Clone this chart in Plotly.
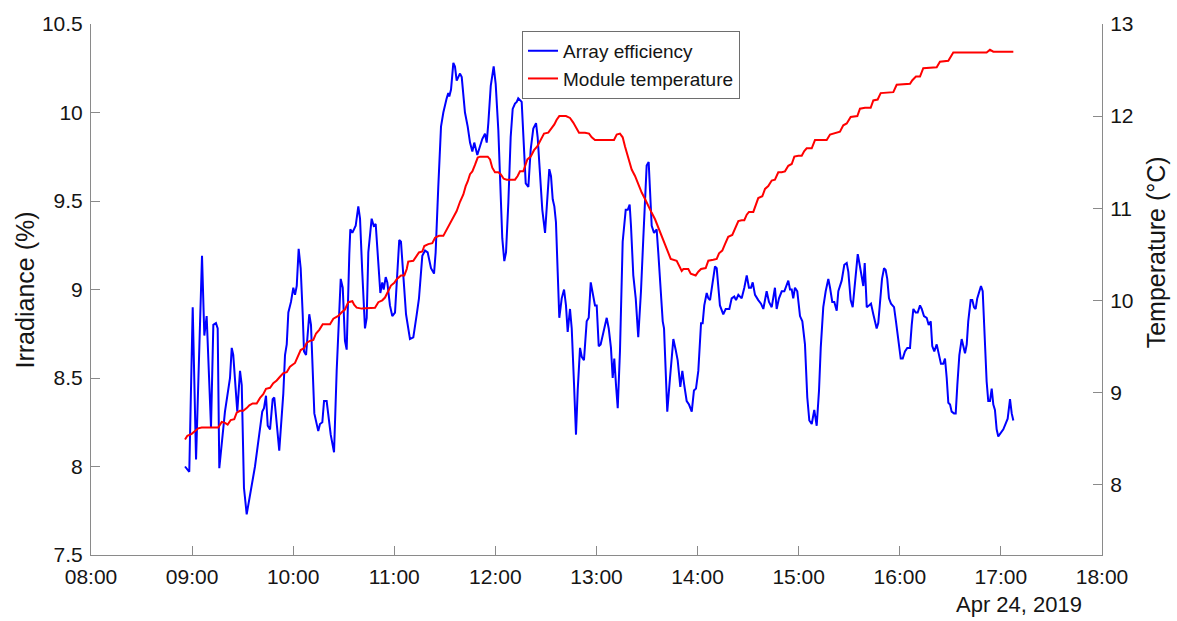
import pandas as pd
import plotly.graph_objects as go

# Clock time in decimal hours (24 Apr 2019) and array efficiency (%)
eff_hours = [
    8.930, 8.972, 9.006, 9.039, 9.098, 9.121, 9.144, 9.187, 9.210, 9.236, 9.253, 9.269,
    9.325, 9.375, 9.392, 9.407, 9.447, 9.474, 9.491, 9.513, 9.540, 9.573, 9.622, 9.694,
    9.711, 9.731, 9.748, 9.771, 9.797, 9.813, 9.862, 9.902, 9.919, 9.936, 9.952, 9.978,
    10.001, 10.018, 10.035, 10.054, 10.074, 10.094, 10.107, 10.127, 10.159, 10.176, 10.209,
    10.248, 10.265, 10.288, 10.305, 10.331, 10.371, 10.404, 10.430, 10.470, 10.490, 10.512,
    10.529, 10.555, 10.565, 10.585, 10.618, 10.644, 10.661, 10.683, 10.710, 10.727, 10.743,
    10.776, 10.796, 10.816, 10.842, 10.862, 10.881, 10.895, 10.915, 10.931, 10.957, 10.980,
    11.007, 11.034, 11.049, 11.066, 11.089, 11.116, 11.155, 11.188, 11.222, 11.244, 11.277,
    11.304, 11.330, 11.363, 11.393, 11.409, 11.435, 11.462, 11.485, 11.501, 11.518, 11.534,
    11.544, 11.561, 11.574, 11.584, 11.600, 11.617, 11.633, 11.650, 11.667, 11.683, 11.699,
    11.726, 11.749, 11.772, 11.791, 11.821, 11.848, 11.870, 11.897, 11.914, 11.930, 11.954,
    11.983, 12.003, 12.029, 12.052, 12.068, 12.088, 12.105, 12.128, 12.151, 12.171, 12.194,
    12.211, 12.226, 12.260, 12.276, 12.300, 12.326, 12.349, 12.375, 12.402, 12.418, 12.441,
    12.464, 12.491, 12.513, 12.533, 12.550, 12.567, 12.583, 12.599, 12.616, 12.632, 12.656,
    12.679, 12.698, 12.715, 12.738, 12.755, 12.778, 12.797, 12.814, 12.837, 12.854, 12.876,
    12.903, 12.923, 12.943, 12.968, 12.985, 13.002, 13.022, 13.041, 13.067, 13.101, 13.121,
    13.143, 13.160, 13.176, 13.193, 13.210, 13.232, 13.259, 13.289, 13.309, 13.328, 13.341,
    13.364, 13.388, 13.413, 13.440, 13.463, 13.496, 13.516, 13.529, 13.546, 13.569, 13.595,
    13.611, 13.635, 13.655, 13.668, 13.684, 13.700, 13.727, 13.760, 13.783, 13.803, 13.829,
    13.849, 13.868, 13.892, 13.915, 13.942, 13.964, 13.984, 14.007, 14.034, 14.050, 14.066,
    14.090, 14.106, 14.123, 14.145, 14.172, 14.189, 14.205, 14.221, 14.254, 14.278, 14.314,
    14.337, 14.363, 14.380, 14.403, 14.436, 14.462, 14.486, 14.508, 14.528, 14.545, 14.568,
    14.600, 14.627, 14.650, 14.683, 14.706, 14.733, 14.765, 14.782, 14.805, 14.832, 14.858,
    14.874, 14.897, 14.914, 14.931, 14.946, 14.963, 14.986, 15.013, 15.036, 15.062, 15.085,
    15.105, 15.129, 15.154, 15.178, 15.201, 15.218, 15.243, 15.267, 15.293, 15.310, 15.332,
    15.352, 15.376, 15.392, 15.425, 15.451, 15.475, 15.491, 15.514, 15.534, 15.557, 15.584,
    15.600, 15.623, 15.639, 15.653, 15.673, 15.695, 15.715, 15.738, 15.755, 15.771, 15.787,
    15.804, 15.824, 15.844, 15.860, 15.876, 15.893, 15.913, 15.943, 15.962, 15.985, 16.009,
    16.029, 16.051, 16.074, 16.101, 16.118, 16.134, 16.157, 16.177, 16.200, 16.217, 16.239,
    16.266, 16.286, 16.306, 16.321, 16.341, 16.365, 16.388, 16.407, 16.430, 16.447, 16.464,
    16.480, 16.497, 16.513, 16.536, 16.553, 16.569, 16.589, 16.612, 16.628, 16.645, 16.662,
    16.677, 16.701, 16.717, 16.734, 16.750, 16.766, 16.786, 16.803, 16.820, 16.836, 16.859,
    16.875, 16.892, 16.909, 16.925, 16.941, 16.958, 16.974, 17.024, 17.067, 17.090, 17.107,
    17.123,
]
efficiency = [
    8.00, 7.97, 8.90, 8.04, 9.19, 8.74, 8.85, 8.22, 8.80, 8.81, 8.78, 7.99,
    8.31, 8.50, 8.67, 8.63, 8.31, 8.54, 8.46, 7.88, 7.73, 7.83, 8.00, 8.31,
    8.33, 8.40, 8.23, 8.21, 8.38, 8.39, 8.09, 8.41, 8.63, 8.69, 8.87, 8.93,
    9.01, 8.97, 9.02, 9.23, 9.12, 8.86, 8.65, 8.63, 8.86, 8.80, 8.30,
    8.20, 8.24, 8.25, 8.37, 8.37, 8.18, 8.08, 8.54, 9.06, 9.01, 8.71,
    8.66, 9.20, 9.34, 9.32, 9.36, 9.47, 9.40, 9.10, 8.78, 8.84, 9.21,
    9.40, 9.36, 9.37, 9.17, 8.98, 9.04, 9.00, 9.07, 9.04, 8.91, 8.85,
    8.87, 9.12, 9.28, 9.27, 9.06, 8.86, 8.72, 8.73, 8.86, 8.95, 9.19,
    9.22, 9.21, 9.12, 9.09, 9.21, 9.58, 9.92, 10.00, 10.05, 10.08, 10.11,
    10.09, 10.13, 10.24, 10.28, 10.26, 10.18, 10.20, 10.22, 10.20, 10.11, 10.00,
    9.92, 9.83, 9.78, 9.83, 9.76, 9.81, 9.85, 9.88, 9.83, 9.94, 10.15,
    10.26, 10.16, 9.90, 9.53, 9.29, 9.16, 9.21, 9.49, 9.86, 10.02, 10.05,
    10.06, 10.08, 10.06, 9.86, 9.60, 9.58, 9.79, 9.91, 9.94, 9.86, 9.62,
    9.45, 9.32, 9.53, 9.68, 9.64, 9.51, 9.47, 9.38, 9.10, 8.84, 8.95,
    9.00, 8.91, 8.76, 8.89, 8.78, 8.46, 8.18, 8.43, 8.67, 8.62, 8.60,
    8.82, 8.84, 9.04, 8.95, 8.91, 8.91, 8.68, 8.69, 8.76, 8.84, 8.78,
    8.67, 8.50, 8.61, 8.46, 8.33, 8.65, 9.27, 9.45, 9.45, 9.48, 9.36,
    9.08, 8.95, 8.73, 8.99, 9.29, 9.70, 9.72, 9.58, 9.36, 9.32, 9.34,
    9.21, 8.99, 8.82, 8.78, 8.56, 8.31, 8.50, 8.72, 8.66, 8.60, 8.45,
    8.54, 8.46, 8.37, 8.35, 8.31, 8.43, 8.44, 8.54, 8.81, 8.81, 8.91,
    8.98, 8.95, 8.94, 9.02, 9.13, 9.12, 9.02, 8.91, 8.86, 8.89, 8.89,
    8.95, 8.96, 8.94, 8.97, 8.95, 9.01, 9.08, 9.01, 9.01, 9.04, 8.97,
    8.94, 8.92, 8.89, 8.99, 8.93, 8.90, 9.01, 8.89, 8.95, 8.99, 8.99,
    9.02, 9.05, 9.00, 9.00, 8.95, 9.01, 8.99, 8.85, 8.82, 8.69, 8.39,
    8.26, 8.24, 8.32, 8.23, 8.43, 8.67, 8.90, 8.99, 9.06, 9.01, 8.93,
    8.93, 8.88, 8.99, 9.05, 9.14, 9.15, 9.10, 8.94, 8.90, 9.02, 9.20,
    9.15, 9.06, 9.02, 9.15, 8.90, 8.91, 8.92, 8.86, 8.82, 8.78, 8.81,
    8.95, 9.06, 9.12, 9.11, 9.06, 8.95, 8.92, 8.90, 8.82, 8.71, 8.61,
    8.61, 8.65, 8.67, 8.67, 8.80, 8.89, 8.87, 8.87, 8.91, 8.89, 8.85,
    8.84, 8.80, 8.82, 8.68, 8.65, 8.69, 8.63, 8.58, 8.58, 8.61, 8.50,
    8.36, 8.35, 8.31, 8.30, 8.30, 8.46, 8.63, 8.72, 8.67, 8.64, 8.69,
    8.82, 8.94, 8.94, 8.90, 8.89, 8.95, 8.99, 9.02, 8.99, 8.76, 8.48,
    8.37, 8.37, 8.44, 8.35, 8.32, 8.21, 8.17, 8.21, 8.27, 8.38, 8.30,
    8.26,
]

# Clock time in decimal hours and module temperature (°C)
temp_hours = [
    8.930, 8.953, 8.996, 9.029, 9.061, 9.095, 9.259, 9.293, 9.325, 9.352, 9.382, 9.417,
    9.441, 9.474, 9.506, 9.540, 9.566, 9.599, 9.639, 9.672, 9.704, 9.731, 9.771, 9.803,
    9.837, 9.869, 9.902, 9.936, 9.968, 10.018, 10.050, 10.074, 10.107, 10.134, 10.166,
    10.199, 10.226, 10.258, 10.292, 10.364, 10.397, 10.446, 10.480, 10.512, 10.545, 10.585,
    10.604, 10.628, 10.678, 10.809, 10.842, 10.881, 10.908, 10.935, 10.967, 11.000, 11.024,
    11.066, 11.099, 11.123, 11.138, 11.188, 11.222, 11.244, 11.277, 11.297, 11.336, 11.376,
    11.403, 11.442, 11.485, 11.518, 11.551, 11.584, 11.617, 11.650, 11.683, 11.706, 11.726,
    11.749, 11.772, 11.798, 11.825, 11.848, 11.924, 11.947, 11.969, 11.996, 12.029, 12.052,
    12.082, 12.112, 12.194, 12.220, 12.243, 12.276, 12.316, 12.349, 12.382, 12.414, 12.448,
    12.481, 12.523, 12.557, 12.583, 12.606, 12.632, 12.698, 12.738, 12.770, 12.803, 12.827,
    12.886, 12.926, 12.953, 12.985, 13.173, 13.200, 13.232, 13.259, 13.282, 13.305, 13.324,
    13.348, 13.381, 13.413, 13.447, 13.480, 13.512, 13.546, 13.579, 13.611, 13.645, 13.677,
    13.710, 13.734, 13.793, 13.819, 13.843, 13.859, 13.882, 13.908, 13.932, 13.957, 13.981,
    14.007, 14.034, 14.080, 14.106, 14.155, 14.189, 14.212, 14.244, 14.271, 14.303, 14.343,
    14.370, 14.403, 14.436, 14.462, 14.486, 14.508, 14.551, 14.575, 14.600, 14.640, 14.667,
    14.699, 14.733, 14.765, 14.798, 14.832, 14.864, 14.897, 14.931, 14.957, 14.996, 15.030,
    15.055, 15.079, 15.129, 15.161, 15.194, 15.277, 15.310, 15.408, 15.441, 15.475, 15.514,
    15.580, 15.606, 15.656, 15.712, 15.738, 15.781, 15.811, 15.936, 15.969, 16.101, 16.124,
    16.160, 16.200, 16.232, 16.365, 16.397, 16.480, 16.529, 16.859, 16.892, 16.925, 17.123,
]
temperature = [
    8.49, 8.53, 8.55, 8.58, 8.61, 8.62, 8.62, 8.68, 8.67, 8.65, 8.70, 8.71,
    8.78, 8.80, 8.80, 8.83, 8.86, 8.88, 8.88, 8.94, 8.98, 9.04, 9.05, 9.10,
    9.13, 9.17, 9.21, 9.22, 9.28, 9.32, 9.39, 9.46, 9.48, 9.54, 9.56,
    9.57, 9.64, 9.68, 9.74, 9.74, 9.80, 9.83, 9.87, 9.90, 9.98, 9.99,
    9.95, 9.92, 9.91, 9.92, 9.98, 10.00, 10.03, 10.09, 10.16, 10.19, 10.23,
    10.27, 10.27, 10.34, 10.42, 10.43, 10.49, 10.52, 10.53, 10.59, 10.61, 10.62,
    10.68, 10.70, 10.70, 10.77, 10.84, 10.90, 10.97, 11.07, 11.15, 11.24, 11.29,
    11.37, 11.40, 11.47, 11.55, 11.56, 11.56, 11.53, 11.44, 11.39, 11.39, 11.37,
    11.32, 11.31, 11.31, 11.35, 11.40, 11.40, 11.53, 11.56, 11.63, 11.67, 11.74,
    11.81, 11.82, 11.87, 11.91, 11.96, 12.00, 12.00, 11.98, 11.93, 11.87, 11.82,
    11.82, 11.81, 11.77, 11.74, 11.74, 11.80, 11.81, 11.77, 11.67, 11.58, 11.51,
    11.42, 11.35, 11.26, 11.17, 11.10, 11.02, 10.95, 10.88, 10.79, 10.68, 10.61,
    10.50, 10.45, 10.43, 10.38, 10.32, 10.34, 10.34, 10.34, 10.29, 10.28, 10.27,
    10.31, 10.34, 10.35, 10.43, 10.44, 10.45, 10.51, 10.54, 10.61, 10.69, 10.71,
    10.77, 10.86, 10.87, 10.87, 10.93, 10.96, 10.96, 11.03, 11.11, 11.13, 11.21,
    11.24, 11.30, 11.31, 11.39, 11.39, 11.40, 11.46, 11.48, 11.56, 11.57, 11.57,
    11.62, 11.65, 11.65, 11.74, 11.74, 11.74, 11.80, 11.83, 11.90, 11.92, 11.99,
    12.00, 12.08, 12.09, 12.09, 12.17, 12.18, 12.25, 12.26, 12.34, 12.35, 12.39,
    12.43, 12.43, 12.52, 12.53, 12.59, 12.60, 12.69, 12.69, 12.72, 12.70, 12.70,
]

day = pd.Timestamp("2019-04-24")
eff_time = day + pd.to_timedelta(eff_hours, unit="h")
temp_time = day + pd.to_timedelta(temp_hours, unit="h")

FONT = "Liberation Sans, Arial, Helvetica, sans-serif"
AXIS_GREY = "#8a8a8a"
TEXT = "#151515"
TICK_SIZE = 21

fig = go.Figure()
fig.add_trace(go.Scatter(
    x=eff_time, y=efficiency, name="Array efficiency", mode="lines",
    line=dict(color="#0000ff", width=2), yaxis="y",
))
fig.add_trace(go.Scatter(
    x=temp_time, y=temperature, name="Module temperature", mode="lines",
    line=dict(color="#ff0000", width=2), yaxis="y2",
))

axis_style = dict(
    showgrid=False, zeroline=False,
    showline=True, linecolor=AXIS_GREY, linewidth=1,
    ticks="inside", ticklen=9, tickcolor=AXIS_GREY, tickwidth=1,
    tickfont=dict(family=FONT, size=TICK_SIZE, color=TEXT),
)

fig.update_layout(
    width=1177, height=621,
    margin=dict(l=91, r=75, t=20, b=66),
    paper_bgcolor="white", plot_bgcolor="white",
    font=dict(family=FONT, size=TICK_SIZE, color=TEXT),
    xaxis=dict(
        type="date",
        range=[day + pd.Timedelta(hours=8), day + pd.Timedelta(hours=18)],
        dtick=3600000, tickformat="%H:%M",
        ticklabelstandoff=3,
        **axis_style,
    ),
    yaxis=dict(
        range=[7.5, 10.5], dtick=0.5,
        ticklabelstandoff=3,
        **axis_style,
    ),
    yaxis2=dict(
        range=[7.235, 13.0], tickvals=[8, 9, 10, 11, 12, 13],
        overlaying="y", side="right",
        ticklabelstandoff=3,
        **axis_style,
    ),
    legend=dict(
        x=0.4263, y=0.987, xanchor="left", yanchor="top",
        bgcolor="white", bordercolor="#6e6e6e", borderwidth=1,
        font=dict(family=FONT, size=19, color=TEXT),
        tracegroupgap=0, itemwidth=30,
    ),
    showlegend=True,
    annotations=[
        dict(text="Irradiance (%)", xref="paper", yref="paper",
             x=-0.0653, y=0.5, xanchor="center", yanchor="middle",
             textangle=-90, showarrow=False,
             font=dict(family=FONT, size=25, color=TEXT)),
        dict(text="Temperature (°C)", xref="paper", yref="paper",
             x=1.0534, y=0.57, xanchor="center", yanchor="middle",
             textangle=-90, showarrow=False,
             font=dict(family=FONT, size=25, color=TEXT)),
        dict(text="Apr 24, 2019", xref="paper", yref="paper",
             x=0.9175, y=-0.0935, xanchor="center", yanchor="middle",
             showarrow=False,
             font=dict(family=FONT, size=22, color=TEXT)),
    ],
)

fig.write_html("out.html")
